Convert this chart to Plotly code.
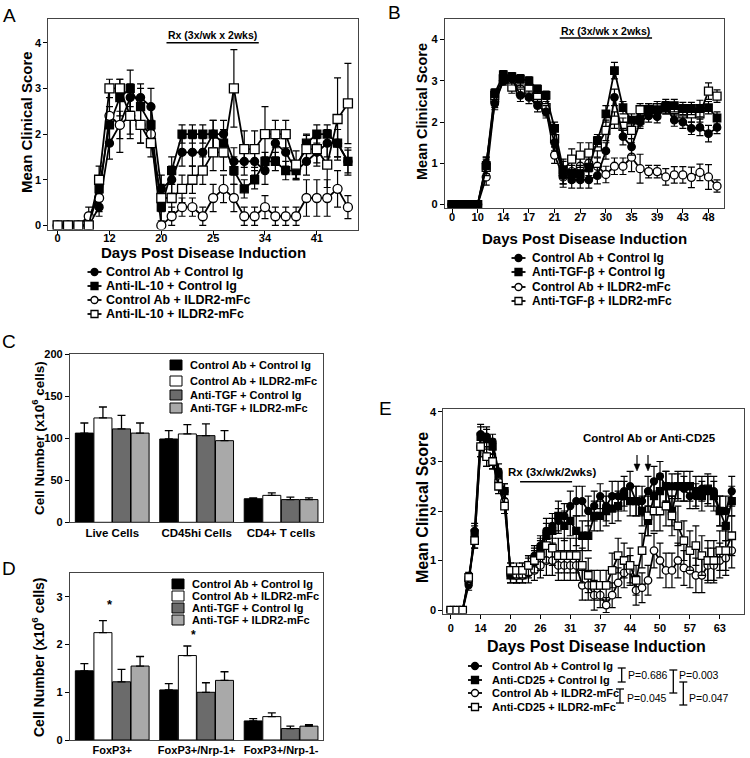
import plotly.graph_objects as go

W, H = 750, 758
def px(x): return x / W
def py(y): return 1 - y / H

FONT = "Liberation Sans, Arial, Helvetica, sans-serif"

# ---------------- Panel A data ----------------
a_tick_pos = [0, 5, 10, 15, 20, 25]
a_tick_lab = ['0', '12', '20', '25', '34', '41']
a_names = ['Control Ab + Control Ig', 'Anti-IL-10 + Control Ig',
           'Control Ab + ILDR2-mFc', 'Anti-IL-10 + ILDR2-mFc']
a_fc = [0, 0, 0, 0, 0.4, 1.8, 2.2, 2.8, 2.8, 2.6, 0.8, 1.0, 1.6, 1.6, 1.6,
        2.0, 2.0, 1.4, 1.4, 1.4, 1.2, 1.8, 1.6, 1.2, 1.4, 1.6, 1.8, 1.8, 1.4]
a_fs = [0, 0, 0, 0, 0.8, 2.2, 2.8, 3.0, 2.6, 2.2, 0.4, 1.2, 2.0, 2.0, 2.0,
        2.0, 1.8, 1.2, 0.8, 1.0, 1.4, 1.4, 1.2, 1.2, 1.8, 2.0, 2.0, 1.8, 1.4]
a_oc = [0, 0, 0, 0.2, 0.6, 2.4, 2.2, 2.4, 2.2, 2.0, 0, 0.2, 0.4, 0.4, 0.2,
        0.6, 0.8, 0.6, 0.2, 0.2, 0.4, 0.2, 0.2, 0.2, 0.6, 0.6, 0.6, 0.8, 0.4]
a_os = [0, 0, 0, 0, 1.0, 3.0, 3.0, 2.4, 2.2, 1.8, 0.6, 0.6, 0.8, 1.0, 1.2,
        1.6, 1.6, 3.0, 1.67, 1.67, 2.0, 2.0, 2.0, 1.33, 1.67, 1.67, 1.33, 2.33, 2.67]
a_fc_err = [0, 0, 0, 0, 0.2, 0.35, 0.3, 0.3, 0.2, 0.4, 0.3, 0.3, 0.3, 0.3, 0.3,
            0.3, 0.3, 0.3, 0.3, 0.3, 0.3, 0.3, 0.3, 0.2, 0.3, 0.3, 0.3, 0.3, 0.3]
a_fs_err = [0, 0, 0, 0, 0.2, 0.4, 0.4, 0.4, 0.5, 0.4, 0.3, 0.3, 0.2, 0.2, 0.2,
            0.3, 0.3, 0.3, 0.2, 0.2, 0.2, 0.2, 0.2, 0.2, 0.2, 0.2, 0.2, 0.3, 0.25]
a_oc_err = [0, 0, 0, 0.2, 0.3, 0.6, 0.6, 0.5, 0.4, 0.3, 0, 0.2, 0.2, 0.2, 0.2,
            0.3, 0.3, 0.3, 0.2, 0.2, 0.25, 0.2, 0.2, 0.2, 0.4, 0.4, 0.4, 0.4, 0.25]
a_os_err = [0, 0, 0, 0, 0.3, 0.2, 0.2, 0.4, 0.4, 0.3, 0.3, 0.3, 0.3, 0.3, 0.3,
            0.4, 0.4, 0.85, 0.4, 0.4, 0.6, 0.3, 0.3, 0.3, 0.3, 0.3, 0.5, 0.9, 0.88]

# ---------------- Panel B data ----------------
b_tick_pos = [0, 3, 6, 9, 12, 15, 18, 21, 24, 27, 30]
b_tick_lab = ['0', '10', '14', '17', '21', '27', '30', '35', '39', '43', '48']
b_names = ['Control Ab + Control Ig', 'Anti-TGF-β + Control Ig',
           'Control Ab + ILDR2-mFc', 'Anti-TGF-β + ILDR2-mFc']
b_fc = [0, 0, 0, 0, 1.0, 2.45, 3.0, 3.05, 2.65, 2.6, 2.4, 2.25, 1.5, 0.7, 0.6,
        0.6, 0.6, 0.7, 1.3, 2.6, 1.65, 1.4, 2.0, 2.15, 2.13, 2.35, 2.05, 2.0, 1.85, 1.87,
        1.72, 1.87]
b_fs = [0, 0, 0, 0, 0.95, 2.7, 3.15, 3.1, 3.05, 3.0, 2.8, 2.65, 1.85, 0.85, 0.75,
        0.75, 0.9, 1.55, 2.2, 3.25, 2.35, 2.05, 2.05, 2.3, 2.3, 2.4, 2.4, 2.33, 2.33, 2.33,
        2.35, 2.1]
b_oc = [0, 0, 0, 0, 0.67, 2.5, 3.0, 3.0, 2.8, 2.7, 2.5, 2.3, 1.2, 0.67, 0.8,
        0.93, 1.0, 0.93, 0.73, 0.93, 0.93, 1.15, 0.87, 0.8, 0.8, 0.67, 0.72, 0.72, 0.66, 0.78,
        0.67, 0.45]
b_os = [0, 0, 0, 0, 0.9, 2.65, 3.05, 2.85, 2.75, 2.8, 2.6, 2.35, 1.6, 0.8, 1.1,
        1.2, 1.25, 1.4, 1.8, 2.05, 1.9, 1.8, 2.3, 2.3, 2.35, 2.35, 2.3, 2.2, 2.2, 2.2,
        2.75, 2.63]
b_fc_err = [0, 0, 0, 0, 0.15, 0.15, 0.1, 0.15, 0.15, 0.15, 0.15, 0.15, 0.2, 0.2, 0.2,
            0.2, 0.2, 0.2, 0.2, 0.2, 0.2, 0.2, 0.15, 0.15, 0.15, 0.15, 0.15, 0.15, 0.15, 0.2,
            0.2, 0.15]
b_fs_err = [0, 0, 0, 0, 0.2, 0.1, 0.1, 0.1, 0.1, 0.1, 0.1, 0.1, 0.15, 0.2, 0.2,
            0.2, 0.2, 0.15, 0.2, 0.2, 0.15, 0.15, 0.15, 0.15, 0.15, 0.15, 0.15, 0.15, 0.15, 0.2,
            0.15, 0.15]
b_oc_err = [0, 0, 0, 0, 0.2, 0.15, 0.1, 0.15, 0.15, 0.15, 0.15, 0.15, 0.2, 0.25, 0.25,
            0.25, 0.2, 0.2, 0.2, 0.2, 0.2, 0.35, 0.35, 0.15, 0.15, 0.2, 0.2, 0.2, 0.25, 0.2,
            0.3, 0.15]
b_os_err = [0, 0, 0, 0, 0.2, 0.15, 0.1, 0.15, 0.15, 0.15, 0.15, 0.15, 0.2, 0.3, 0.25,
            0.3, 0.25, 0.25, 0.25, 0.2, 0.2, 0.2, 0.15, 0.15, 0.15, 0.15, 0.15, 0.2, 0.2, 0.2,
            0.2, 0.15]

# ---------------- Panel C / D data ----------------
bar_names = ['Control Ab + Control Ig', 'Control Ab + ILDR2-mFc',
             'Anti-TGF + Control Ig', 'Anti-TGF + ILDR2-mFc']
bar_colors = ['#000000', '#ffffff', '#6b6b6b', '#a9a9a9']
c_cats = ['Live Cells', 'CD45hi Cells', 'CD4+ T cells']
c_vals = [[106, 99, 28], [124, 105, 32], [111, 103, 27], [106, 97, 27]]
c_errs = [[12, 10, 1], [13, 11, 3], [16, 14, 3], [12, 12, 2]]
d_cats = ['FoxP3+', 'FoxP3+/Nrp-1+', 'FoxP3+/Nrp-1-']
d_vals = [[1.45, 1.05, 0.40], [2.25, 1.77, 0.49], [1.22, 1.00, 0.24], [1.55, 1.25, 0.29]]
d_errs = [[0.15, 0.13, 0.05], [0.25, 0.20, 0.08], [0.26, 0.20, 0.05], [0.20, 0.18, 0.03]]

# ---------------- Panel E data ----------------
e_tick_pos = [0, 5, 10, 15, 20, 25, 30, 35, 40, 45]
e_tick_lab = ['0', '14', '20', '26', '31', '37', '44', '50', '57', '63']
e_names = ['Control Ab + Control Ig', 'Anti-CD25 + Control Ig',
           'Control Ab + ILDR2-mFc', 'Anti-CD25 + ILDR2-mFc']
e_fc = [0, 0, 0, 0.5, 1.6, 3.55, 3.5, 3.4, 2.8, 2.4, 0.7, 0.7, 0.8, 0.9, 1.1,
        1.3, 1.6, 1.7, 1.8, 1.9, 2.1, 2.2, 2.2, 2.0, 2.1, 2.3, 2.1, 2.3, 2.3, 2.4,
        2.5, 2.2, 2.2, 2.4, 2.6, 2.7, 2.5, 2.5, 2.5, 2.45, 2.3, 2.3, 2.45, 2.4, 2.4,
        2.0, 2.0, 2.4]
e_fs = [0, 0, 0, 0.6, 1.55, 3.5, 3.45, 3.3, 2.7, 2.4, 0.7, 0.7, 0.7, 0.85, 1.0,
        1.2, 1.5, 1.6, 1.9, 1.7, 1.8, 1.6, 1.5, 1.5, 1.9, 1.9, 2.0, 2.05, 2.1, 2.3,
        2.2, 2.2, 2.0, 1.8, 2.3, 2.4, 2.5, 2.0, 2.5, 2.5, 2.5, 2.4, 2.3, 2.45, 2.3,
        2.0, 1.7, 2.2]
e_oc = [0, 0, 0, 0.6, 1.4, 3.3, 3.1, 3.0, 2.6, 2.2, 0.8, 0.7, 0.7, 0.75, 0.8,
        0.9, 1.0, 1.0, 0.9, 0.9, 0.9, 0.9, 0.5, 0.5, 0.3, 0.3, 0.1, 0.3, 0.55, 0.75,
        0.8, 0.4, 0.45, 0.6, 1.2, 1.0, 0.8, 0.8, 1.0, 0.85, 0.8, 0.7, 0.7, 0.9, 0.9,
        1.0, 1.05, 1.2]
e_os = [0, 0, 0, 0.66, 1.4, 3.3, 3.1, 3.0, 2.5, 2.1, 0.8, 0.8, 0.8, 0.9, 1.0,
        1.1, 1.3, 1.25, 1.1, 1.1, 1.1, 1.1, 0.9, 0.7, 0.5, 0.5, 0.5, 0.8, 1.1, 1.0,
        0.9, 0.6, 1.2, 1.9, 2.0, 2.0, 2.1, 1.9, 1.7, 1.4, 1.2, 1.3, 1.1, 1.0, 1.0,
        1.2, 1.2, 1.5]
e_fc_err = [0, 0, 0, 0.1, 0.15, 0.2, 0.2, 0.15, 0.15, 0.15, 0.15, 0.15, 0.15, 0.2, 0.2,
            0.2, 0.25, 0.25, 0.25, 0.25, 0.3, 0.3, 0.3, 0.3, 0.3, 0.25, 0.3, 0.3, 0.3, 0.3,
            0.3, 0.3, 0.3, 0.3, 0.3, 0.3, 0.3, 0.25, 0.25, 0.25, 0.25, 0.25, 0.25, 0.3, 0.3,
            0.3, 0.3, 0.3]
e_fs_err = [0, 0, 0, 0.1, 0.15, 0.2, 0.2, 0.15, 0.15, 0.15, 0.15, 0.15, 0.15, 0.2, 0.2,
            0.25, 0.25, 0.25, 0.3, 0.3, 0.3, 0.3, 0.3, 0.3, 0.3, 0.3, 0.3, 0.3, 0.3, 0.3,
            0.3, 0.3, 0.3, 0.3, 0.3, 0.35, 0.3, 0.3, 0.3, 0.3, 0.3, 0.3, 0.3, 0.3, 0.3,
            0.3, 0.3, 0.3]
e_oc_err = [0, 0, 0, 0.1, 0.15, 0.2, 0.2, 0.15, 0.15, 0.15, 0.15, 0.15, 0.15, 0.2, 0.2,
            0.25, 0.3, 0.3, 0.3, 0.3, 0.3, 0.3, 0.3, 0.3, 0.3, 0.25, 0.15, 0.25, 0.3, 0.3,
            0.3, 0.3, 0.3, 0.3, 0.35, 0.35, 0.35, 0.35, 0.35, 0.35, 0.35, 0.35, 0.35, 0.35, 0.35,
            0.35, 0.35, 0.35]
e_os_err = [0, 0, 0, 0.1, 0.15, 0.2, 0.2, 0.15, 0.15, 0.15, 0.15, 0.15, 0.15, 0.2, 0.25,
            0.3, 0.35, 0.35, 0.35, 0.35, 0.35, 0.35, 0.35, 0.35, 0.3, 0.3, 0.3, 0.35, 0.35, 0.35,
            0.35, 0.3, 0.35, 0.4, 0.4, 0.4, 0.4, 0.4, 0.4, 0.4, 0.4, 0.4, 0.4, 0.4, 0.4,
            0.4, 0.4, 0.4]

fig = go.Figure()

def series(x_axis, y_axis, vals, errs, name, symbol, filled, msize):
    fig.add_trace(go.Scatter(
        x=list(range(len(vals))), y=vals, name=name, mode='lines+markers',
        xaxis=x_axis, yaxis=y_axis, showlegend=False,
        line=dict(color='black', width=1.8),
        marker=dict(symbol=symbol, size=msize,
                    color='black' if filled else 'white',
                    line=dict(color='black', width=1.3)),
        error_y=dict(type='data', array=errs, color='black', thickness=1.2, width=3.5),
    ))

# Panel A traces
series('x', 'y', a_fc, a_fc_err, a_names[0], 'circle', True, 8)
series('x', 'y', a_fs, a_fs_err, a_names[1], 'square', True, 8)
series('x', 'y', a_oc, a_oc_err, a_names[2], 'circle', False, 9)
series('x', 'y', a_os, a_os_err, a_names[3], 'square', False, 9)
# Panel B traces
series('x2', 'y2', b_oc, b_oc_err, b_names[2], 'circle', False, 8)
series('x2', 'y2', b_os, b_os_err, b_names[3], 'square', False, 8)
series('x2', 'y2', b_fc, b_fc_err, b_names[0], 'circle', True, 7.5)
series('x2', 'y2', b_fs, b_fs_err, b_names[1], 'square', True, 7.5)
# Panel E traces
series('x5', 'y5', e_fc, e_fc_err, e_names[0], 'circle', True, 7)
series('x5', 'y5', e_fs, e_fs_err, e_names[1], 'square', True, 7)
series('x5', 'y5', e_oc, e_oc_err, e_names[2], 'circle', False, 7.5)
series('x5', 'y5', e_os, e_os_err, e_names[3], 'square', False, 7.5)

# Panel C / D bars
for i in range(4):
    fig.add_trace(go.Bar(x=c_cats, y=c_vals[i], name=bar_names[i], xaxis='x3', yaxis='y3',
                         showlegend=False,
                         marker=dict(color=bar_colors[i], line=dict(color='black', width=1)),
                         error_y=dict(type='data', array=c_errs[i], arrayminus=[0, 0, 0],
                                      symmetric=False, color='black', thickness=1.3, width=4)))
    fig.add_trace(go.Bar(x=d_cats, y=d_vals[i], name=bar_names[i], xaxis='x4', yaxis='y4',
                         showlegend=False,
                         marker=dict(color=bar_colors[i], line=dict(color='black', width=1)),
                         error_y=dict(type='data', array=d_errs[i], arrayminus=[0, 0, 0],
                                      symmetric=False, color='black', thickness=1.3, width=4)))

def axis_style(**kw):
    d = dict(showline=True, linecolor='#444', linewidth=1.2, mirror=True,
             ticks='outside', ticklen=4, tickwidth=1.2, tickcolor='black',
             showgrid=False, zeroline=False, automargin=False, tickangle=0,
             tickfont=dict(family=FONT, size=11, color='black', weight='bold'))
    d.update(kw)
    return d

fig.update_layout(
    template='none',
    width=W, height=H, margin=dict(l=0, r=0, t=0, b=0, autoexpand=False),
    paper_bgcolor='white', plot_bgcolor='white', showlegend=False,
    barmode='group', bargap=0.12, bargroupgap=0.03,
    font=dict(family=FONT, color='black'),
    xaxis=axis_style(domain=[px(48.3), px(358.3)], range=[-0.9, 29.0],
                     tickvals=a_tick_pos, ticktext=a_tick_lab, anchor='y',
                     ticklabelstandoff=-6),
    yaxis=axis_style(domain=[py(229.5), py(19)], range=[-0.09, 4.52],
                     tickvals=[0, 1, 2, 3, 4], anchor='x'),
    xaxis2=axis_style(domain=[px(445), px(724.3)], range=[-0.82, 31.85],
                      tickvals=b_tick_pos, ticktext=b_tick_lab, anchor='y2',
                      ticklabelstandoff=-6),
    yaxis2=axis_style(domain=[py(208.3), py(19)], range=[-0.09, 4.5],
                      tickvals=[0, 1, 2, 3, 4], anchor='x2'),
    xaxis3=axis_style(domain=[px(70), px(323.3)], ticks='', anchor='y3',
                      tickfont=dict(family=FONT, size=11.5, color='black', weight='bold')),
    yaxis3=axis_style(domain=[py(522.3), py(354)], range=[0, 200],
                      tickvals=[0, 50, 100, 150, 200], anchor='x3'),
    xaxis4=axis_style(domain=[px(70), px(323.3)], ticks='', anchor='y4',
                      tickfont=dict(family=FONT, size=11, color='black', weight='bold')),
    yaxis4=axis_style(domain=[py(740), py(573)], range=[0, 3.5],
                      tickvals=[0, 1, 2, 3], anchor='x4'),
    xaxis5=axis_style(domain=[px(443.3), px(744.3)], range=[-1.24, 49.1],
                      tickvals=e_tick_pos, ticktext=e_tick_lab, anchor='y5'),
    yaxis5=axis_style(domain=[py(613.5), py(409)], range=[-0.07, 4.06],
                      tickvals=[0, 1, 2, 3, 4], anchor='x5'),
)

ann = []
shapes = []

def text(x, y, s, size, bold=True, xanchor='center', yanchor='middle', angle=0, family=FONT):
    ann.append(dict(x=px(x), y=py(y), xref='paper', yref='paper', text=s, showarrow=False,
                    xanchor=xanchor, yanchor=yanchor, textangle=angle,
                    font=dict(family=family, size=size, color='black',
                              weight='bold' if bold else 'normal')))

# panel letters
for lab, x, y in [('A', 9, 15), ('B', 395, 12), ('C', 9, 341), ('D', 9, 568), ('E', 385, 408)]:
    text(x, y, lab, 19, bold=False)

# axis titles
text(27, 122, 'Mean Clinical Score', 15, angle=-90)
text(203, 252, 'Days Post Disease Induction', 15)
text(422, 112, 'Mean Clinical Score', 14.5, angle=-90)
text(584, 238, 'Days Post Disease Induction', 15)
text(422, 508, 'Mean Clinical Score', 16, angle=-90)
text(596, 646, 'Days Post Disease Induction', 16)
text(38, 438, 'Cell Number (x10<sup>6</sup> cells)', 13.5, angle=-90)
text(38, 657, 'Cell Number (x10<sup>6</sup> cells)', 14, angle=-90)

# Rx annotations
def data_text(xa, ya, x, y, s, size):
    ann.append(dict(x=x, y=y, xref=xa, yref=ya, text=s, showarrow=False,
                    font=dict(family=FONT, size=size, color='black', weight='bold')))

data_text('x', 'y', 14.9, 4.17, 'Rx (3x/wk x 2wks)', 10.5)
shapes.append(dict(type='line', xref='x', yref='y', x0=10.5, x1=19.4, y0=4.0, y1=4.0,
                   line=dict(color='black', width=1.5)))
data_text('x2', 'y2', 18.0, 4.2, 'Rx (3x/wk x 2wks)', 10.5)
shapes.append(dict(type='line', xref='x2', yref='y2', x0=12.6, x1=23.4, y0=4.04, y1=4.04,
                   line=dict(color='black', width=1.5)))
data_text('x5', 'y5', 17.0, 2.79, 'Rx (3x/wk/2wks)', 11.5)
shapes.append(dict(type='line', xref='x5', yref='y5', x0=11.6, x1=20.3, y0=2.59, y1=2.59,
                   line=dict(color='black', width=1.5)))
data_text('x5', 'y5', 33.2, 3.47, 'Control Ab or Anti-CD25', 11.5)

# arrows (pointing down) drawn as shapes
for ax_px in [637, 648]:
    shapes.append(dict(type='line', xref='paper', yref='paper', x0=px(ax_px), x1=px(ax_px),
                       y0=py(455), y1=py(465), line=dict(color='black', width=1.2)))
    shapes.append(dict(type='path', xref='paper', yref='paper',
                       path=f"M {px(ax_px - 3)},{py(464)} L {px(ax_px + 3)},{py(464)} "
                            f"L {px(ax_px)},{py(471)} Z",
                       fillcolor='black', line=dict(color='black', width=0.5)))

# stars on D
ann.append(dict(x=px(105), y=py(614), xref='paper', yref='paper', text='*', showarrow=False,
                font=dict(family=FONT, size=13, color='black', weight='bold')))
ann.append(dict(x=px(189), y=py(644), xref='paper', yref='paper', text='*', showarrow=False,
                font=dict(family=FONT, size=12, color='black', weight='bold')))

# line/marker legends
def line_legend(cx, rows, names, size, textx, msz):
    syms = [('circle', True), ('square', True), ('circle', False), ('square', False)]
    for (sym, filled), y, nm in zip(syms, rows, names):
        shapes.append(dict(type='line', xref='paper', yref='paper',
                           x0=px(cx - 7), x1=px(cx + 7), y0=py(y), y1=py(y),
                           line=dict(color='black', width=1.8)))
        h = msz / 2
        shapes.append(dict(type='circle' if sym == 'circle' else 'rect', xref='paper', yref='paper',
                           x0=px(cx - h), x1=px(cx + h), y0=py(y + h), y1=py(y - h),
                           fillcolor='black' if filled else 'white',
                           line=dict(color='black', width=1.3)))
        text(textx, y, nm, size, xanchor='left')

line_legend(94.5, [272, 286, 300, 314], a_names, 12.5, 104, 7)
line_legend(518.5, [258, 272, 287, 301], b_names, 12, 530, 7)
line_legend(475, [666, 680, 693, 707], e_names, 11, 490, 7)

def bar_legend(x0, rows, size, textx):
    for c, y, nm in zip(bar_colors, rows, bar_names):
        shapes.append(dict(type='rect', xref='paper', yref='paper',
                           x0=px(x0), x1=px(x0 + 12), y0=py(y + 5), y1=py(y - 5),
                           fillcolor=c, line=dict(color='black', width=1)))
        text(textx, y, nm, size, xanchor='left')

bar_legend(170, [365, 381, 395, 408], 11, 188)
bar_legend(172, [584, 596, 608, 620], 11, 190)

# P-value brackets
def bracket(x, y0, y1):
    shapes.append(dict(type='line', xref='paper', yref='paper', x0=px(x), x1=px(x),
                       y0=py(y0), y1=py(y1), line=dict(color='black', width=1.3)))
    for yy in (y0, y1):
        shapes.append(dict(type='line', xref='paper', yref='paper', x0=px(x - 4), x1=px(x + 4),
                           y0=py(yy), y1=py(yy), line=dict(color='black', width=1.3)))

bracket(621.7, 668, 682)
bracket(673.3, 670, 693)
bracket(620, 689, 703)
bracket(683.3, 682, 705)
text(626, 675, 'P=0.686', 10.5, bold=False, xanchor='left')
text(677, 675, 'P=0.003', 10.5, bold=False, xanchor='left')
text(625, 698, 'P=0.045', 10.5, bold=False, xanchor='left')
text(687, 698, 'P=0.047', 10.5, bold=False, xanchor='left')

fig.update_layout(annotations=ann, shapes=shapes)

fig.write_html("out.html", config={'displayModeBar': False},
               post_script="document.body.style.margin='0';")
